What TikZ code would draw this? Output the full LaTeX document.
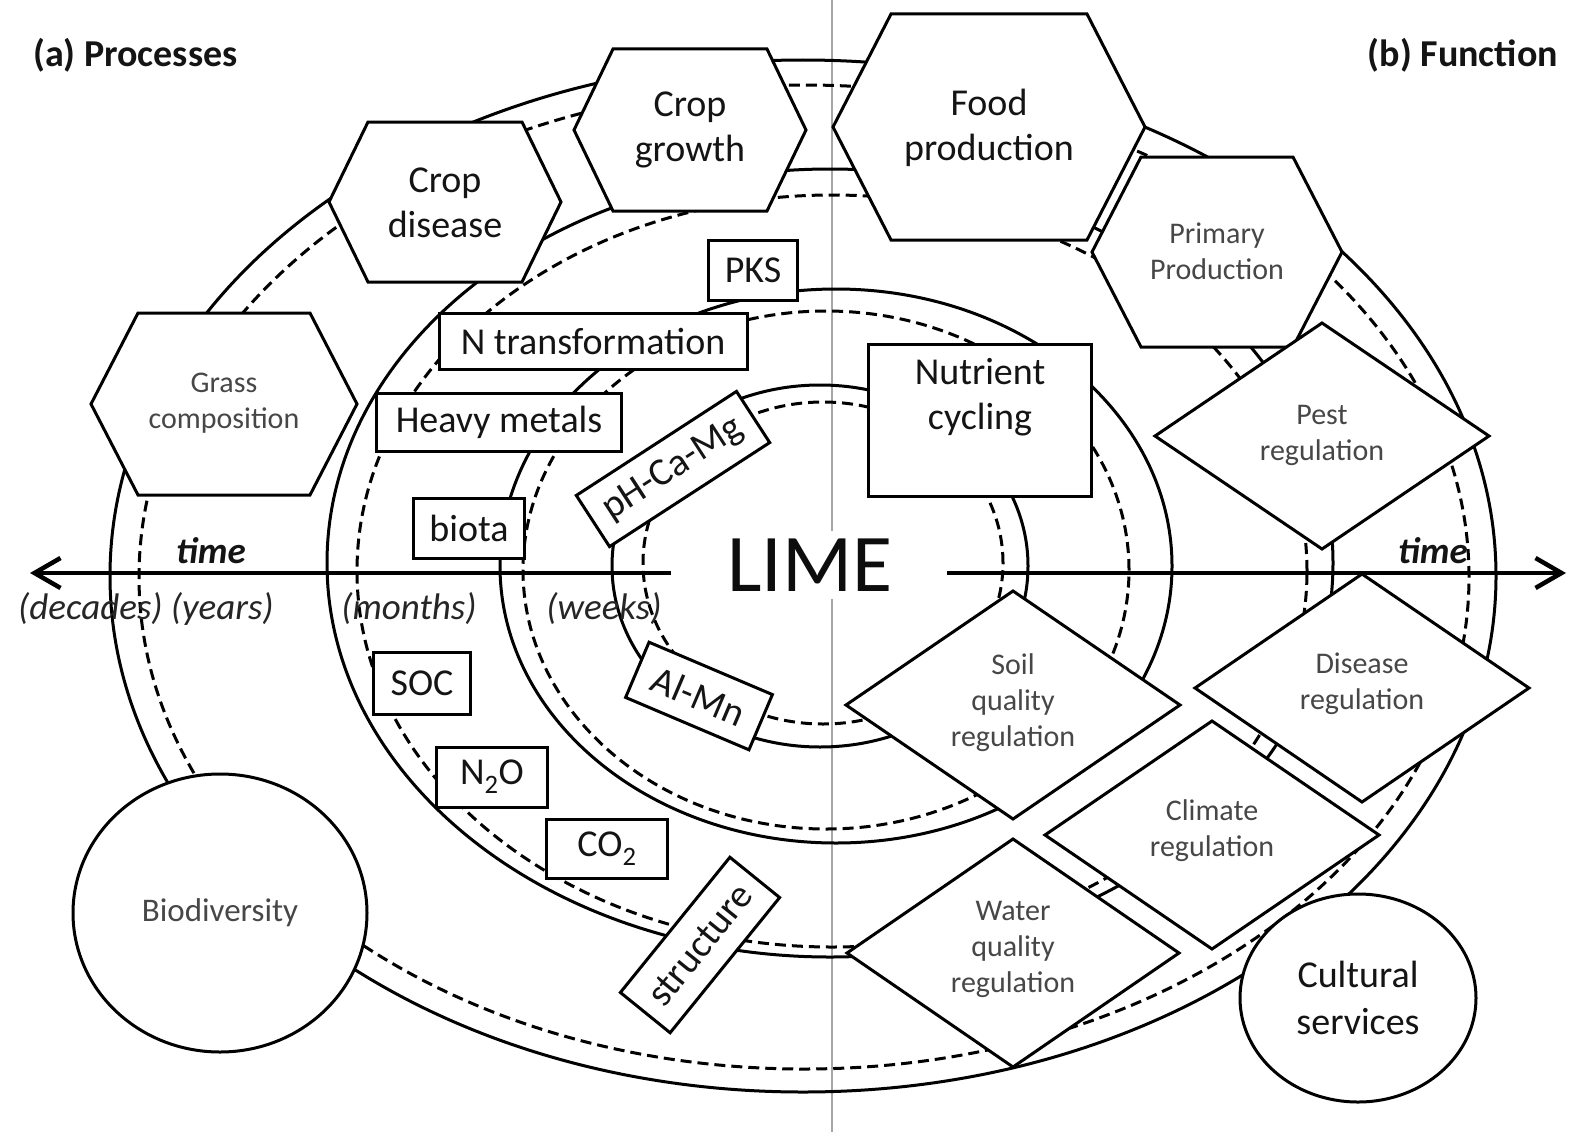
\documentclass[tikz,border=0pt]{standalone}
\usepackage{fontspec}
\setmainfont{Carlito}
\usetikzlibrary{arrows.meta,shapes.geometric}
\newcommand{\myhex}[5]{\draw[shp] ({#1-#3},{#2}) -- ({#1-#4},{#2-#5}) -- ({#1+#4},{#2-#5}) -- ({#1+#3},{#2}) -- ({#1+#4},{#2+#5}) -- ({#1-#4},{#2+#5}) -- cycle;}
\newcommand{\mydiam}[4]{\draw[shp] ({#1-#3},{#2}) -- ({#1},{#2-#4}) -- ({#1+#3},{#2}) -- ({#1},{#2+#4}) -- cycle;}
\begin{document}
\begin{tikzpicture}[x=1pt,y=-1pt,
  ln/.style={line width=3pt, draw=black},
  dln/.style={line width=3pt, draw=black, dash pattern=on 11pt off 6pt},
  shp/.style={line width=3pt, draw=black, fill=white},
  big/.style={font=\fontsize{38}{45}\selectfont, text=black!92, align=center, inner sep=0pt},
  small/.style={font=\fontsize{30}{36}\selectfont, text=black!72, align=center, inner sep=0pt},
  box/.style={shp, rectangle, inner sep=0pt, font=\fontsize{38}{45}\selectfont, text=black!92, align=center},
  rbox/.style={box, font=\fontsize{39}{45}\selectfont},
  ital/.style={font=\itshape\fontsize{37}{44}\selectfont, text=black!85, inner sep=0pt},
  head/.style={font=\bfseries\fontsize{38}{45}\selectfont, text=black!92, inner sep=0pt},
  timearrow/.style={line width=4.5pt, -{Straight Barb[length=26pt,width=30pt]}},
]
\useasboundingbox (0,0) rectangle (1576,1132);
\fill[white] (0,0) rectangle (1576,1132);

% vertical divider
\coordinate (gT) at (832,0);
\coordinate (gB) at (832,1132);
\draw[black!35, line width=2pt] (gT) -- (gB);

% time rings
\draw[ln]  (803,576) ellipse [x radius=693pt, y radius=516pt];
\draw[dln] (804,577) ellipse [x radius=665pt, y radius=492pt];
\draw[ln]  (830,563) ellipse [x radius=503pt, y radius=394pt];
\draw[dln] (832,571) ellipse [x radius=475pt, y radius=376pt];
\draw[ln]  (836,566) ellipse [x radius=336pt, y radius=277pt];
\draw[dln] (826,570) ellipse [x radius=303pt, y radius=259pt];
\draw[ln]  (820,566) ellipse [x radius=208pt, y radius=181pt];
\draw[dln] (823,563) ellipse [x radius=180pt, y radius=161pt];

% time axis
\coordinate (aL) at (30,573);
\coordinate (aLs) at (671,573);
\coordinate (aRs) at (947,573);
\coordinate (aR) at (1566,573);
\draw[timearrow] (aLs) -- (aL);
\draw[timearrow] (aRs) -- (aR);

% hexagons
\myhex{690}{130}{116}{77}{81}
\myhex{445}{202}{116}{77}{80}
\myhex{224}{404}{133}{86}{91}
\myhex{989}{127}{156}{98}{113}
\myhex{1217}{252}{125}{76}{95}

% diamonds
\mydiam{1322}{436}{167}{113}
\mydiam{1013}{705}{167}{114}
\mydiam{1362}{688}{167}{114}
\mydiam{1212}{835}{167}{114}
\mydiam{1013}{953}{166}{114}

% hexagon / diamond labels
\node[big] (cg) at (690,130) {Crop\\growth};
\node[big] (cd) at (445,203) {Crop\\disease};
\node[small] (gc) at (224,403) {Grass\\composition};
\node[big] (fp) at (989,128) {Food\\production};
\node[small] (pp) at (1217,251) {Primary\\Production};
\node[small] (pr) at (1322,435) {Pest\\regulation};
\node[small] (sq) at (1013,703) {Soil\\quality\\regulation};
\node[small] (dr) at (1362,684) {Disease\\regulation};
\node[small] (cr) at (1212,831) {Climate\\regulation};
\node[small] (wq) at (1013,949) {Water\\quality\\regulation};

% rectangles
\node[box, minimum width=89pt, minimum height=60pt] (pks) at (753,270) {PKS};
\node[box, minimum width=308pt, minimum height=56pt] (nt) at (593,341) {N transformation};
\node[box, minimum width=245pt, minimum height=58pt] (hm) at (499,422) {Heavy metals};
\node[box, minimum width=111pt, minimum height=60pt] (bt) at (469,528) {biota};
\node[box, minimum width=97pt, minimum height=62pt] (soc) at (422,683) {SOC};
\node[box, minimum width=111pt, minimum height=60pt] (n2o) at (492,777) {N\textsubscript{2}O};
\node[box, minimum width=121pt, minimum height=59pt] (co2) at (607,849) {CO\textsubscript{2}};
\node[rbox, rotate=33, minimum width=191pt, minimum height=61pt] (ph) at (673,469) {pH-Ca-Mg};
\node[rbox, rotate=-23, minimum width=134pt, minimum height=60pt] (al) at (699,696) {Al-Mn};
\node[rbox, rotate=51, minimum width=174pt, minimum height=64pt] (st) at (700,945) {structure};
\node[box, minimum width=223pt, minimum height=152pt] (nc) at (980,420) {};
\node[big] (nct) at (980,397) {Nutrient\\cycling};

% circles
\node[shp, ellipse, inner sep=0pt, minimum width=294pt, minimum height=278pt,
      font=\fontsize{33}{40}\selectfont, text=black!72] (bio) at (220,913) {Biodiversity};
\node[shp, ellipse, inner sep=0pt, minimum width=236pt, minimum height=208pt,
      font=\fontsize{38}{47}\selectfont, text=black!92, align=center] (cs) at (1358,998) {Cultural\\services};

% centre and captions
\node[fill=white, inner xsep=4pt, inner ysep=8pt, font=\fontsize{82}{90}\selectfont, text=black!95] (lime) at (810,565) {LIME};
\node[head, anchor=west] (pa) at (33,55) {(a) Processes};
\node[head, anchor=east] (pb) at (1558,55) {(b) Function};
\node[font=\bfseries\itshape\fontsize{37}{44}\selectfont, text=black!92, inner sep=0pt] (tl) at (211,551) {time};
\node[font=\bfseries\itshape\fontsize{37}{44}\selectfont, text=black!92, inner sep=0pt] (tr) at (1433,551) {time};
\node[ital, anchor=west] (dy) at (18,609) {(decades) (years)};
\node[ital] (mo) at (409,609) {(months)};
\node[ital] (wk) at (604,609) {(weeks)};
\end{tikzpicture}
\end{document}
